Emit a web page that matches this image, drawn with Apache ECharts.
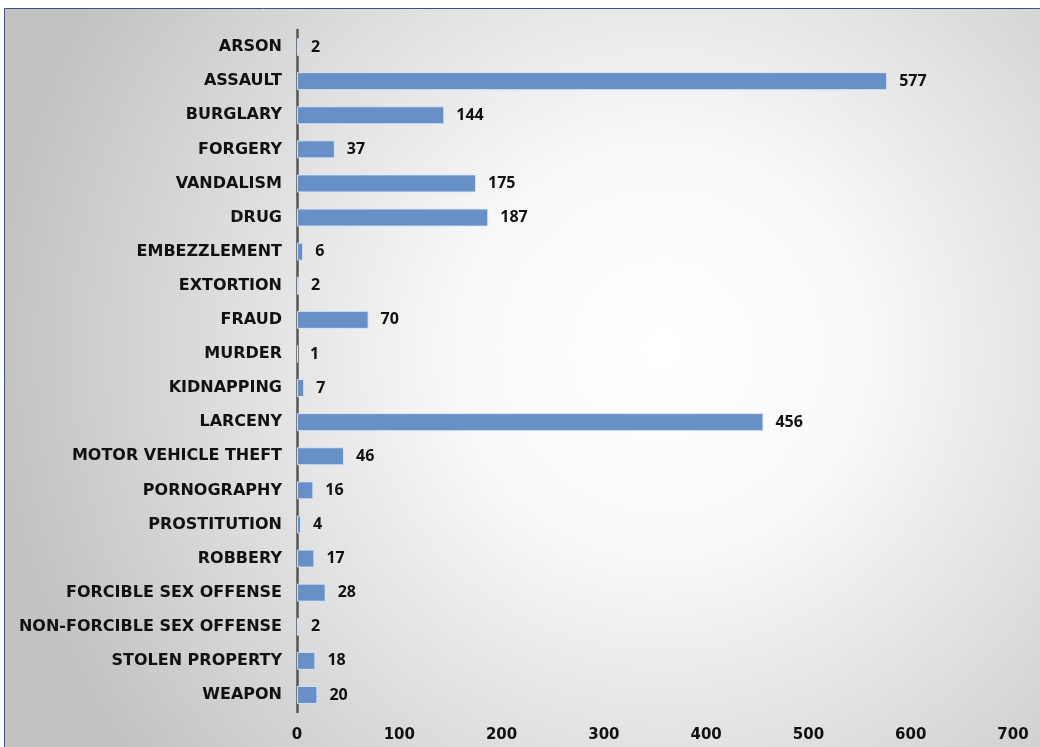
<!DOCTYPE html>
<html>
<head>
<meta charset="utf-8">
<script src="https://cdn.jsdelivr.net/npm/echarts@6/dist/echarts.min.js"></script>
<style>
html,body{margin:0;padding:0;background:#fff;}
#chart{width:1040px;height:747px;}
</style>
</head>
<body>
<div id="chart"></div>
<script>
const categories = ["ARSON","ASSAULT","BURGLARY","FORGERY","VANDALISM","DRUG","EMBEZZLEMENT","EXTORTION","FRAUD","MURDER","KIDNAPPING","LARCENY","MOTOR VEHICLE THEFT","PORNOGRAPHY","PROSTITUTION","ROBBERY","FORCIBLE SEX OFFENSE","NON-FORCIBLE SEX OFFENSE","STOLEN PROPERTY","WEAPON"];
const counts = [2,577,144,37,175,187,6,2,70,1,7,456,46,16,4,17,28,2,18,20];
const xTicks = [0,100,200,300,400,500,600,700];

const chart = echarts.init(document.getElementById('chart'), null, {renderer:'canvas'});
chart.setOption({
  backgroundColor: '#ffffff',
  animation: false,
  graphic: [{
    type: 'rect',
    z: -10,
    silent: true,
    shape: {x: 4.5, y: 8.5, width: 1060, height: 760},
    style: {
      fill: {
        type: 'radial', x: 0.62, y: 0.45, r: 0.88,
        colorStops: [
          {offset: 0, color: '#ffffff'},
          {offset: 0.3, color: '#f9f9f9'},
          {offset: 0.75, color: '#d6d6d6'},
          {offset: 1, color: '#c2c2c2'}
        ]
      },
      stroke: '#3e5278',
      lineWidth: 1
    }
  }],
  grid: {left: 297, right: 27, top: 30, bottom: 35, containLabel: false},
  xAxis: {
    type: 'value',
    min: xTicks[0],
    max: xTicks[xTicks.length - 1],
    interval: 100,
    axisLine: {show: false},
    axisTick: {show: false},
    splitLine: {show: false},
    axisLabel: {
      color: '#111',
      fontFamily: 'DejaVu Sans',
      fontWeight: 'bold',
      fontSize: 15,
      margin: 16
    }
  },
  yAxis: {
    type: 'category',
    data: categories,
    inverse: true,
    axisLine: {show: true, lineStyle: {color: '#555555', width: 2.5}},
    axisTick: {show: false},
    axisLabel: {
      color: '#111',
      fontFamily: 'DejaVu Sans',
      fontWeight: 'bold',
      fontSize: 16,
      margin: 15
    }
  },
  series: [{
    type: 'bar',
    data: counts,
    barWidth: 18,
    itemStyle: {color: '#6690c6', borderColor: 'rgba(220,232,248,0.9)', borderWidth: 1},
    label: {
      show: true,
      position: 'right',
      distance: 12,
      color: '#111',
      fontFamily: 'Open Sans',
      fontWeight: 'bold',
      fontSize: 16
    }
  }]
});
</script>
</body>
</html>
